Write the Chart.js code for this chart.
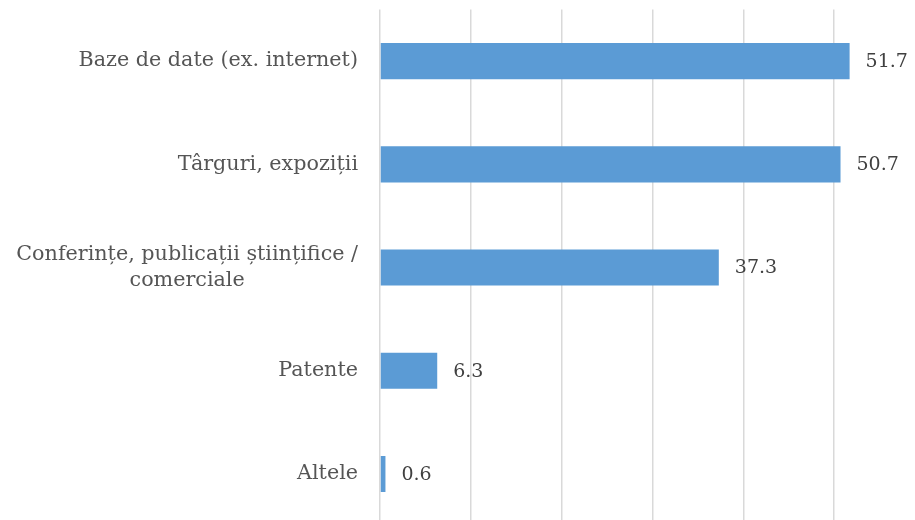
<!DOCTYPE html>
<html>
<head>
<meta charset="utf-8">
<script src="https://cdn.jsdelivr.net/npm/chart.js@4"></script>
<style>
  body { margin: 0; background: #fff; }
  #wrap { width: 915px; height: 520px; overflow: hidden; position: relative; }
  canvas { display: block; }
</style>
</head>
<body>
<div id="wrap"><canvas id="chart" width="940" height="530"></canvas></div>
<script>
// chart data
const categories = [
  "Baze de date (ex. internet)",
  "Târguri, expoziții",
  ["Conferințe, publicații științifice /", "comerciale"],
  "Patente",
  "Altele"
];
const values = [51.7, 50.7, 37.3, 6.3, 0.6];
const xTicks = [0, 10, 20, 30, 40, 50, 60];

const labelFont = '20.7px "DejaVu Serif"';
const valueFont = '19px "DejaVu Serif"';

// draws category labels (block right-aligned, lines centred) and value labels
const labelPlugin = {
  id: "labels",
  afterDatasetsDraw(chart) {
    const ctx = chart.ctx;
    const yScale = chart.scales.y;
    const meta = chart.getDatasetMeta(0);
    ctx.save();
    ctx.textBaseline = "middle";

    categories.forEach((cat, i) => {
      const lines = Array.isArray(cat) ? cat : [cat];
      const y = yScale.getPixelForValue(i);
      ctx.font = labelFont;
      ctx.fillStyle = "#555555";
      const w = Math.max(...lines.map(l => ctx.measureText(l).width));
      const right = chart.chartArea.left - 22;
      const cx = right - w / 2;
      const lh = 26;
      ctx.textAlign = "center";
      lines.forEach((l, j) => {
        ctx.fillText(l, cx, y + (j - (lines.length - 1) / 2) * lh);
      });
    });

    meta.data.forEach((bar, i) => {
      ctx.font = valueFont;
      ctx.fillStyle = "#404040";
      ctx.textAlign = "left";
      ctx.fillText(values[i].toFixed(1), bar.x + 16, bar.y + 1);
    });
    ctx.restore();
  }
};

new Chart(document.getElementById("chart"), {
  type: "bar",
  data: {
    labels: categories,
    datasets: [{
      data: values,
      backgroundColor: "#5b9bd5",
      borderWidth: 0,
      categoryPercentage: 1,
      barPercentage: 0.35
    }]
  },
  options: {
    indexAxis: "y",
    responsive: false,
    animation: false,
    layout: { padding: { left: 0, top: 9.5, right: 15, bottom: 4.4 } },
    plugins: {
      legend: { display: false },
      tooltip: { enabled: false }
    },
    scales: {
      x: {
        min: xTicks[0],
        max: xTicks[xTicks.length - 1],
        afterBuildTicks: scale => { scale.ticks = xTicks.map(v => ({ value: v })); },
        ticks: { display: false },
        grid: { color: "#d9d9d9", lineWidth: 1.5, drawTicks: false },
        border: { display: false }
      },
      y: {
        ticks: { display: false },
        grid: { display: false, drawTicks: false },
        border: { display: false },
        afterFit: scale => { scale.width = 380; }
      }
    }
  },
  plugins: [labelPlugin]
});
</script>
</body>
</html>
